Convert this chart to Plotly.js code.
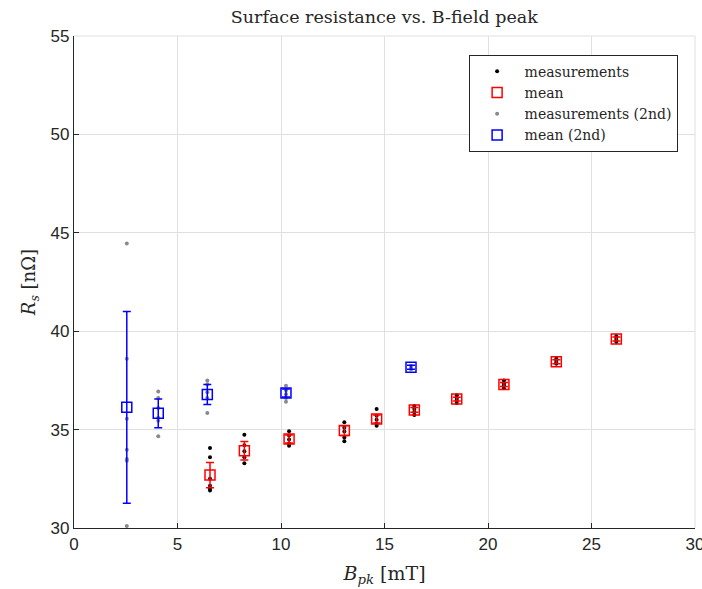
<!DOCTYPE html>
<html>
<head>
<meta charset="utf-8">
<script src="https://cdn.plot.ly/plotly-3.0.1.min.js"></script>
<style>html,body{margin:0;padding:0;background:#fff;}#chart{width:702px;height:589px;}</style>
</head>
<body>
<div id="chart"></div>
<script>
// Measurements (1st run)
var measX = [
  6.57,6.57,6.57,6.57,6.57,6.57,
  8.23,8.23,8.23,8.23,8.23,
  10.39,10.39,10.39,10.39,10.39,
  13.06,13.06,13.06,13.06,13.06,
  14.62,14.62,14.62,14.62,14.62,
  16.44,16.44,16.44,16.44,
  18.49,18.49,18.49,18.49,
  20.77,20.77,20.77,20.77,
  23.3,23.3,23.3,23.3,
  26.2,26.2,26.2,26.2
];
var measY = [
  34.06,33.59,32.5,32.15,32.0,31.9,
  34.74,34.2,33.9,33.6,33.29,
  34.91,34.7,34.5,34.3,34.18,
  35.37,35.1,34.9,34.6,34.41,
  36.05,35.7,35.5,35.3,35.2,
  36.2,36.05,35.9,35.74,
  36.75,36.6,36.5,36.35,
  37.5,37.35,37.25,37.1,
  38.6,38.5,38.4,38.35,
  39.75,39.65,39.55,39.45
];
// Means (1st run)
var meanX = [6.57, 8.23, 10.39, 13.06, 14.62, 16.44, 18.49, 20.77, 23.3, 26.2];
var meanY = [32.69, 33.93, 34.52, 34.95, 35.54, 36.0, 36.55, 37.29, 38.45, 39.6];
var meanErr = [0.64, 0.47, 0.2, 0.25, 0.2, 0.12, 0.1, 0.1, 0.1, 0.1];
// Measurements (2nd run)
var meas2X = [
  2.55,2.55,2.55,2.55,2.55,2.55,2.55,
  4.07,4.07,4.07,4.07,4.07,4.07,
  6.44,6.44,6.44,6.44,6.44,
  10.24,10.24,10.24,10.24,10.24,
  16.28,16.28,16.28
];
var meas2Y = [
  44.45,38.6,35.55,33.98,33.5,33.42,30.1,
  36.93,36.6,36.1,35.6,35.45,34.66,
  37.49,37.3,36.9,36.6,35.84,
  37.23,37.0,36.8,36.6,36.42,
  38.25,38.15,38.05
];
// Means (2nd run)
var mean2X = [2.55, 4.07, 6.44, 10.24, 16.28];
var mean2Y = [36.13, 35.83, 36.78, 36.86, 38.17];
var mean2Err = [4.87, 0.73, 0.51, 0.2, 0.1];
var tickVals = [0, 5, 10, 15, 20, 25, 30];
var yTickVals = [30, 35, 40, 45, 50, 55];

var serif = "DejaVu Serif, serif";
var traces = [
  {x: measX, y: measY, type: 'scatter', mode: 'markers', name: 'measurements',
   marker: {color: '#000000', size: 4}},
  {x: meanX, y: meanY, type: 'scatter', mode: 'markers', name: 'mean',
   marker: {symbol: 'square-open', color: '#ff0000', size: 10, line: {width: 1.5}},
   error_y: {type: 'data', array: meanErr, visible: true, color: '#ff0000', thickness: 1.5, width: 4}},
  {x: meas2X, y: meas2Y, type: 'scatter', mode: 'markers', name: 'measurements (2nd)',
   marker: {color: '#8a8a8a', size: 4}},
  {x: mean2X, y: mean2Y, type: 'scatter', mode: 'markers', name: 'mean (2nd)',
   marker: {symbol: 'square-open', color: '#0000ff', size: 10, line: {width: 1.5}},
   error_y: {type: 'data', array: mean2Err, visible: true, color: '#0000ff', thickness: 1.5, width: 4}}
];
var tickFont = {family: 'Liberation Sans, Arial, sans-serif', size: 17, color: '#262626'};
var layout = {
  width: 702, height: 589,
  margin: {l: 74, r: 7, t: 36, b: 61},
  paper_bgcolor: '#ffffff', plot_bgcolor: '#ffffff',
  title: {text: 'Surface resistance vs. B-field peak', font: {family: serif, size: 17.5, color: '#262626'},
          x: 0.5475, xanchor: 'center', y: 0.972, yanchor: 'middle'},
  xaxis: {range: [0, 30], tickvals: tickVals, ticktext: tickVals.map(String), ticklabeloverflow: 'allow',
          showgrid: true, gridcolor: '#e0e0e0', gridwidth: 1, zeroline: false,
          showline: true, linecolor: '#262626', linewidth: 1.2, mirror: false,
          ticks: 'inside', ticklen: 5, tickcolor: '#262626', tickfont: tickFont,
          title: {text: '<i>B</i><sub><i>pk</i></sub> [mT]', font: {family: serif, size: 19, color: '#262626'}, standoff: 14}},
  yaxis: {range: [30, 55], tickvals: yTickVals, ticktext: yTickVals.map(String),
          showgrid: true, gridcolor: '#e0e0e0', gridwidth: 1, zeroline: false,
          showline: true, linecolor: '#262626', linewidth: 1.2, mirror: false,
          ticks: 'inside', ticklen: 5, tickcolor: '#262626', tickfont: tickFont,
          title: {text: '<i>R</i><sub><i>s</i></sub> [nΩ]', font: {family: serif, size: 18, color: '#262626'}, standoff: 10}},
  shapes: [
    {type: 'line', xref: 'paper', yref: 'paper', x0: 0, x1: 1, y0: 1, y1: 1, line: {color: '#e0e0e0', width: 1}},
    {type: 'line', xref: 'paper', yref: 'paper', x0: 1, x1: 1, y0: 0, y1: 1, line: {color: '#e0e0e0', width: 1}}
  ],
  showlegend: true,
  legend: {x: 0.972, xanchor: 'right', y: 0.962, yanchor: 'top',
           bgcolor: '#ffffff', bordercolor: '#262626', borderwidth: 1,
           font: {family: serif, size: 14, color: '#262626'}, tracegroupgap: 0, itemwidth: 45}
};
Plotly.newPlot('chart', traces, layout, {displayModeBar: false, staticPlot: true});
</script>
</body>
</html>
